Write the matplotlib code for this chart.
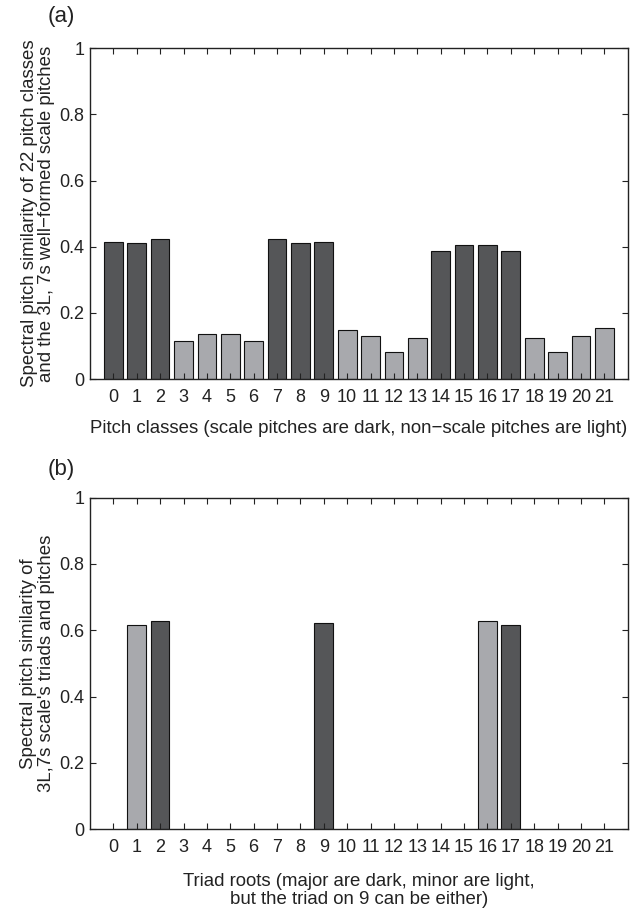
import numpy as np
import matplotlib.pyplot as plt

plt.rcParams['font.family'] = ['Liberation Sans', 'DejaVu Sans']

# (a) similarity of each of the 22 pitch classes to the scale
pitch_classes = list(range(22))
pitch_sim = [0.414, 0.410, 0.424, 0.116, 0.136, 0.136, 0.116, 0.424, 0.410, 0.414,
             0.147, 0.129, 0.082, 0.124, 0.388, 0.405, 0.405, 0.388, 0.124, 0.082,
             0.129, 0.153]
scale_pitch = [1, 1, 1, 0, 0, 0, 0, 1, 1, 1, 0, 0, 0, 0, 1, 1, 1, 1, 0, 0, 0, 0]

# (b) triads of the scale by root
triad_roots = [1, 2, 9, 16, 17]
triad_sim = [0.617, 0.627, 0.621, 0.627, 0.617]
triad_major = [0, 1, 1, 0, 1]

DARK = '#555658'
LIGHT = '#a8a9ad'
INK = '#222222'

fig = plt.figure(figsize=(6.36, 9.09), dpi=100)
ax1 = fig.add_axes([0.1415, 0.583, 0.8455, 0.364])
ax2 = fig.add_axes([0.1415, 0.0877, 0.8455, 0.3648])


def style(ax):
    ax.set_xlim(-1, 22)
    ax.set_ylim(0, 1)
    ax.set_xticks(pitch_classes)
    ax.set_yticks([0, 0.2, 0.4, 0.6, 0.8, 1])
    ax.set_yticklabels(['0', '0.2', '0.4', '0.6', '0.8', '1'])
    ax.tick_params(direction='in', top=True, right=True, length=4, width=0.8,
                   labelsize=13, colors=INK)
    ax.tick_params(axis='x', pad=7)
    ax.tick_params(axis='y', pad=4)
    for s in ax.spines.values():
        s.set_linewidth(1.0)
        s.set_color(INK)


cols = [DARK if s else LIGHT for s in scale_pitch]
ax1.bar(pitch_classes, pitch_sim, width=0.8, color=cols, edgecolor='#111111', linewidth=0.8)
style(ax1)
ax1.set_ylabel('Spectral pitch similarity of 22 pitch classes\nand the 3L, 7s well\u2212formed scale pitches',
               fontsize=13.4, labelpad=3, color=INK, linespacing=1.0)
ax1.set_xlabel('Pitch classes (scale pitches are dark, non\u2212scale pitches are light)',
               fontsize=13.4, labelpad=10, color=INK)
fig.text(0.075, 0.982, '(a)', fontsize=16, ha='left', va='center', color=INK)

cols = [DARK if m else LIGHT for m in triad_major]
ax2.bar(triad_roots, triad_sim, width=0.8, color=cols, edgecolor='#111111', linewidth=0.8)
style(ax2)
ax2.set_ylabel("Spectral pitch similarity of\n3L,7s scale's triads and pitches",
               fontsize=13.4, labelpad=3, color=INK, linespacing=1.1)
ax2.set_xlabel('Triad roots (major are dark, minor are light,\nbut the triad on 9 can be either)',
               fontsize=13.4, labelpad=12, color=INK, linespacing=1.1)
fig.text(0.075, 0.483, '(b)', fontsize=16, ha='left', va='center', color=INK)

fig.savefig('out.png', dpi=100)
